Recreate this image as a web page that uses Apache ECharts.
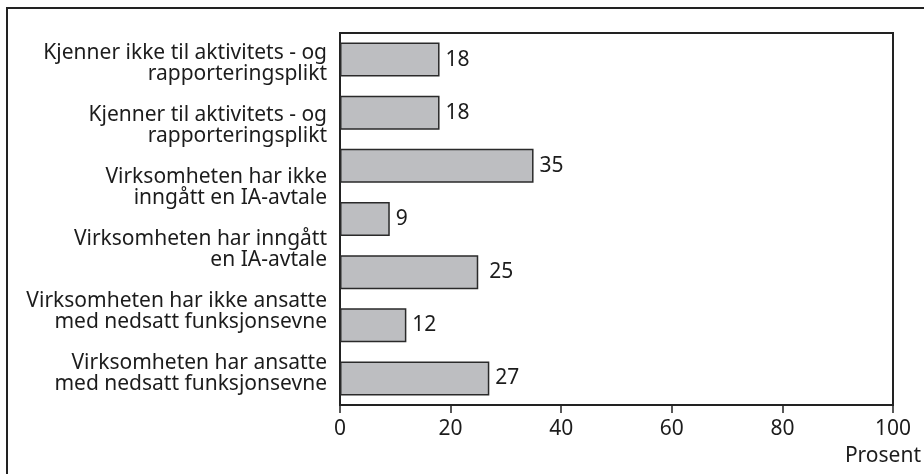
<!DOCTYPE html>
<html>
<head>
<meta charset="utf-8">
<script src="https://cdn.jsdelivr.net/npm/echarts@6/dist/echarts.min.js"></script>
<style>
  html, body { margin: 0; padding: 0; background: #fff; }
  #chart { width: 924px; height: 474px; }
</style>
</head>
<body>
<div id="chart"></div>
<script>
// 6 text labels spread evenly down the left side
var categories = [
  'Kjenner ikke til aktivitets - og\nrapporteringsplikt',
  'Kjenner til aktivitets - og\nrapporteringsplikt',
  'Virksomheten har ikke\ninngått en IA-avtale',
  'Virksomheten har inngått\nen IA-avtale',
  'Virksomheten har ikke ansatte\nmed nedsatt funksjonsevne',
  'Virksomheten har ansatte\nmed nedsatt funksjonsevne'
]
// but 7 bars in the picture, top to bottom
var barSlots = ['1', '2', '3', '4', '5', '6', '7']
var values = [18, 18, 35, 9, 25, 12, 27]
var axisTicks = [0, 20, 40, 60, 80, 100]
var axisName = 'Prosent'

var font = 'Noto Sans'
var textColor = '#1c1c1c'
var chart = echarts.init(document.getElementById('chart'))

// the "25" label sits a bit further from its bar in the original
var barData = values.map(function (v, i) {
  return i === 4 ? { value: v, label: { distance: 11 } } : v
})

chart.setOption({
  animation: false,
  textStyle: { fontFamily: font },
  grid: {
    left: 340,
    right: 31,
    top: 33,
    bottom: 69,
    show: true,
    borderColor: '#222',
    borderWidth: 2,
    containLabel: false
  },
  xAxis: {
    type: 'value',
    min: axisTicks[0],
    max: axisTicks[axisTicks.length - 1],
    interval: 20,
    axisLine: { show: true, lineStyle: { color: '#222', width: 2 } },
    axisTick: { show: true, length: 8, lineStyle: { color: '#222', width: 1.5 } },
    axisLabel: { color: textColor, fontSize: 21, margin: 14, fontFamily: font },
    splitLine: { show: false }
  },
  yAxis: [{
    type: 'category',
    inverse: true,
    data: barSlots,
    axisLine: { show: true, lineStyle: { color: '#222', width: 2 } },
    axisTick: { show: false },
    axisLabel: { show: false }
  }, {
    type: 'category',
    position: 'left',
    inverse: true,
    data: categories,
    axisLine: { show: false },
    axisTick: { show: false },
    splitLine: { show: false },
    axisLabel: {
      color: textColor,
      fontSize: 21,
      lineHeight: 21,
      margin: 13,
      fontFamily: font,
      interval: 0
    }
  }],
  series: [{
    type: 'bar',
    yAxisIndex: 0,
    data: barData,
    barCategoryGap: '36%',
    itemStyle: { color: '#bdbec1', borderColor: '#2a2a2a', borderWidth: 1.5 },
    label: {
      show: true,
      position: 'right',
      distance: 6,
      color: textColor,
      fontSize: 21,
      fontFamily: font
    }
  }],
  graphic: [
    {
      type: 'rect',
      shape: { x: 7, y: 8, width: 1000, height: 1000 },
      style: { fill: 'none', stroke: '#222', lineWidth: 2 },
      silent: true
    },
    {
      type: 'text',
      right: 3,
      top: 446,
      style: { text: axisName, fill: textColor, font: '21px "Noto Sans"' }
    }
  ]
})
</script>
</body>
</html>
